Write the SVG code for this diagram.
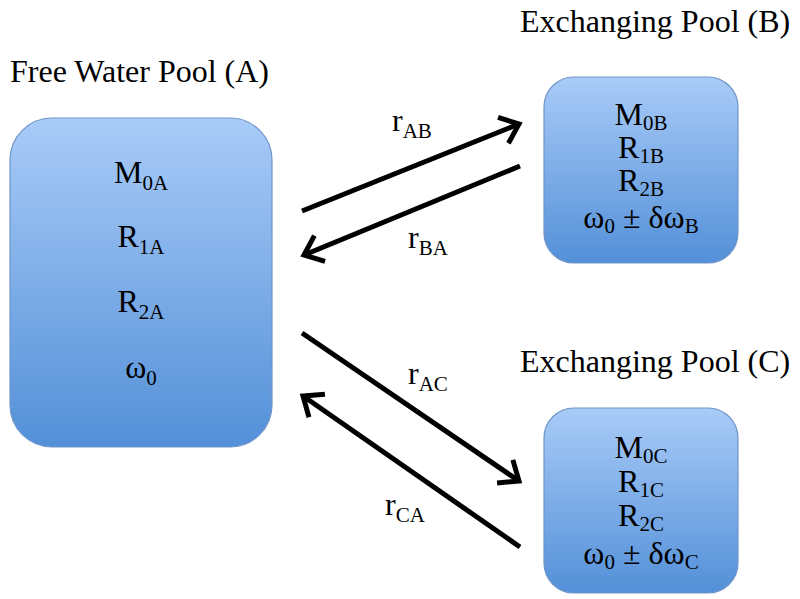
<svg xmlns="http://www.w3.org/2000/svg" width="800" height="599" viewBox="0 0 800 599">
<style>
text{font-family:'Liberation Serif','Times New Roman',Times,serif;font-size:32px;fill:#000}
.c{text-anchor:middle}
.s{font-size:21px}
.box{fill:url(#g);stroke:#6f95c9;stroke-width:1.2}
.ln{stroke:#000;stroke-width:5;fill:none;marker-end:url(#arr)}
</style>
<defs>
<linearGradient id="g" x1="0" y1="0" x2="0" y2="1">
<stop offset="0" stop-color="#a9cbf8"/>
<stop offset="1" stop-color="#5390d8"/>
</linearGradient>
<marker id="arr" markerUnits="userSpaceOnUse" markerWidth="40" markerHeight="40" refX="0" refY="0" orient="auto" overflow="visible">
<path d="M-17,-14 L0,0 L-17,14" fill="none" stroke="#000" stroke-width="5" stroke-linejoin="miter"/>
</marker>
</defs>
<rect width="800" height="599" fill="#fff"/>
<g id="poolA">
<text x="10" y="82">Free Water Pool (A)</text>
<rect class="box" x="10" y="118" width="262" height="329" rx="42" ry="42"/>
<text class="c" x="141" y="183">M<tspan class="s" dy="7">0A</tspan></text>
<text class="c" x="141" y="247">R<tspan class="s" dy="7">1A</tspan></text>
<text class="c" x="141" y="312">R<tspan class="s" dy="7">2A</tspan></text>
<text class="c" x="141" y="378">ω<tspan class="s" dy="7">0</tspan></text>
</g>
<g id="poolB">
<text x="520" y="32">Exchanging Pool (B)</text>
<rect class="box" x="544" y="77" width="194" height="186" rx="30" ry="30"/>
<text class="c" x="641" y="125">M<tspan class="s" dy="5">0B</tspan></text>
<text class="c" x="641" y="158">R<tspan class="s" dy="5">1B</tspan></text>
<text class="c" x="641" y="191">R<tspan class="s" dy="5">2B</tspan></text>
<text class="c" x="641" y="228">ω<tspan class="s" dy="5">0</tspan><tspan dy="-5"> ± δω</tspan><tspan class="s" dy="5">B</tspan></text>
</g>
<g id="poolC">
<text x="520" y="372">Exchanging Pool (C)</text>
<rect class="box" x="544" y="408" width="194" height="185" rx="30" ry="30"/>
<text class="c" x="641" y="458">M<tspan class="s" dy="5">0C</tspan></text>
<text class="c" x="641" y="492">R<tspan class="s" dy="5">1C</tspan></text>
<text class="c" x="641" y="526">R<tspan class="s" dy="5">2C</tspan></text>
<text class="c" x="641" y="564">ω<tspan class="s" dy="5">0</tspan><tspan dy="-5"> ± δω</tspan><tspan class="s" dy="5">C</tspan></text>
</g>
<g id="connectors">
<line class="ln" x1="302" y1="211" x2="519" y2="124"/>
<line class="ln" x1="520" y1="166" x2="304" y2="255"/>
<line class="ln" x1="302" y1="333" x2="519" y2="481"/>
<line class="ln" x1="520" y1="547" x2="303" y2="396"/>
<text x="392" y="131">r<tspan class="s" dy="7">AB</tspan></text>
<text x="408" y="248">r<tspan class="s" dy="7">BA</tspan></text>
<text x="408" y="384">r<tspan class="s" dy="7">AC</tspan></text>
<text x="385" y="515">r<tspan class="s" dy="7">CA</tspan></text>
</g>
</svg>
